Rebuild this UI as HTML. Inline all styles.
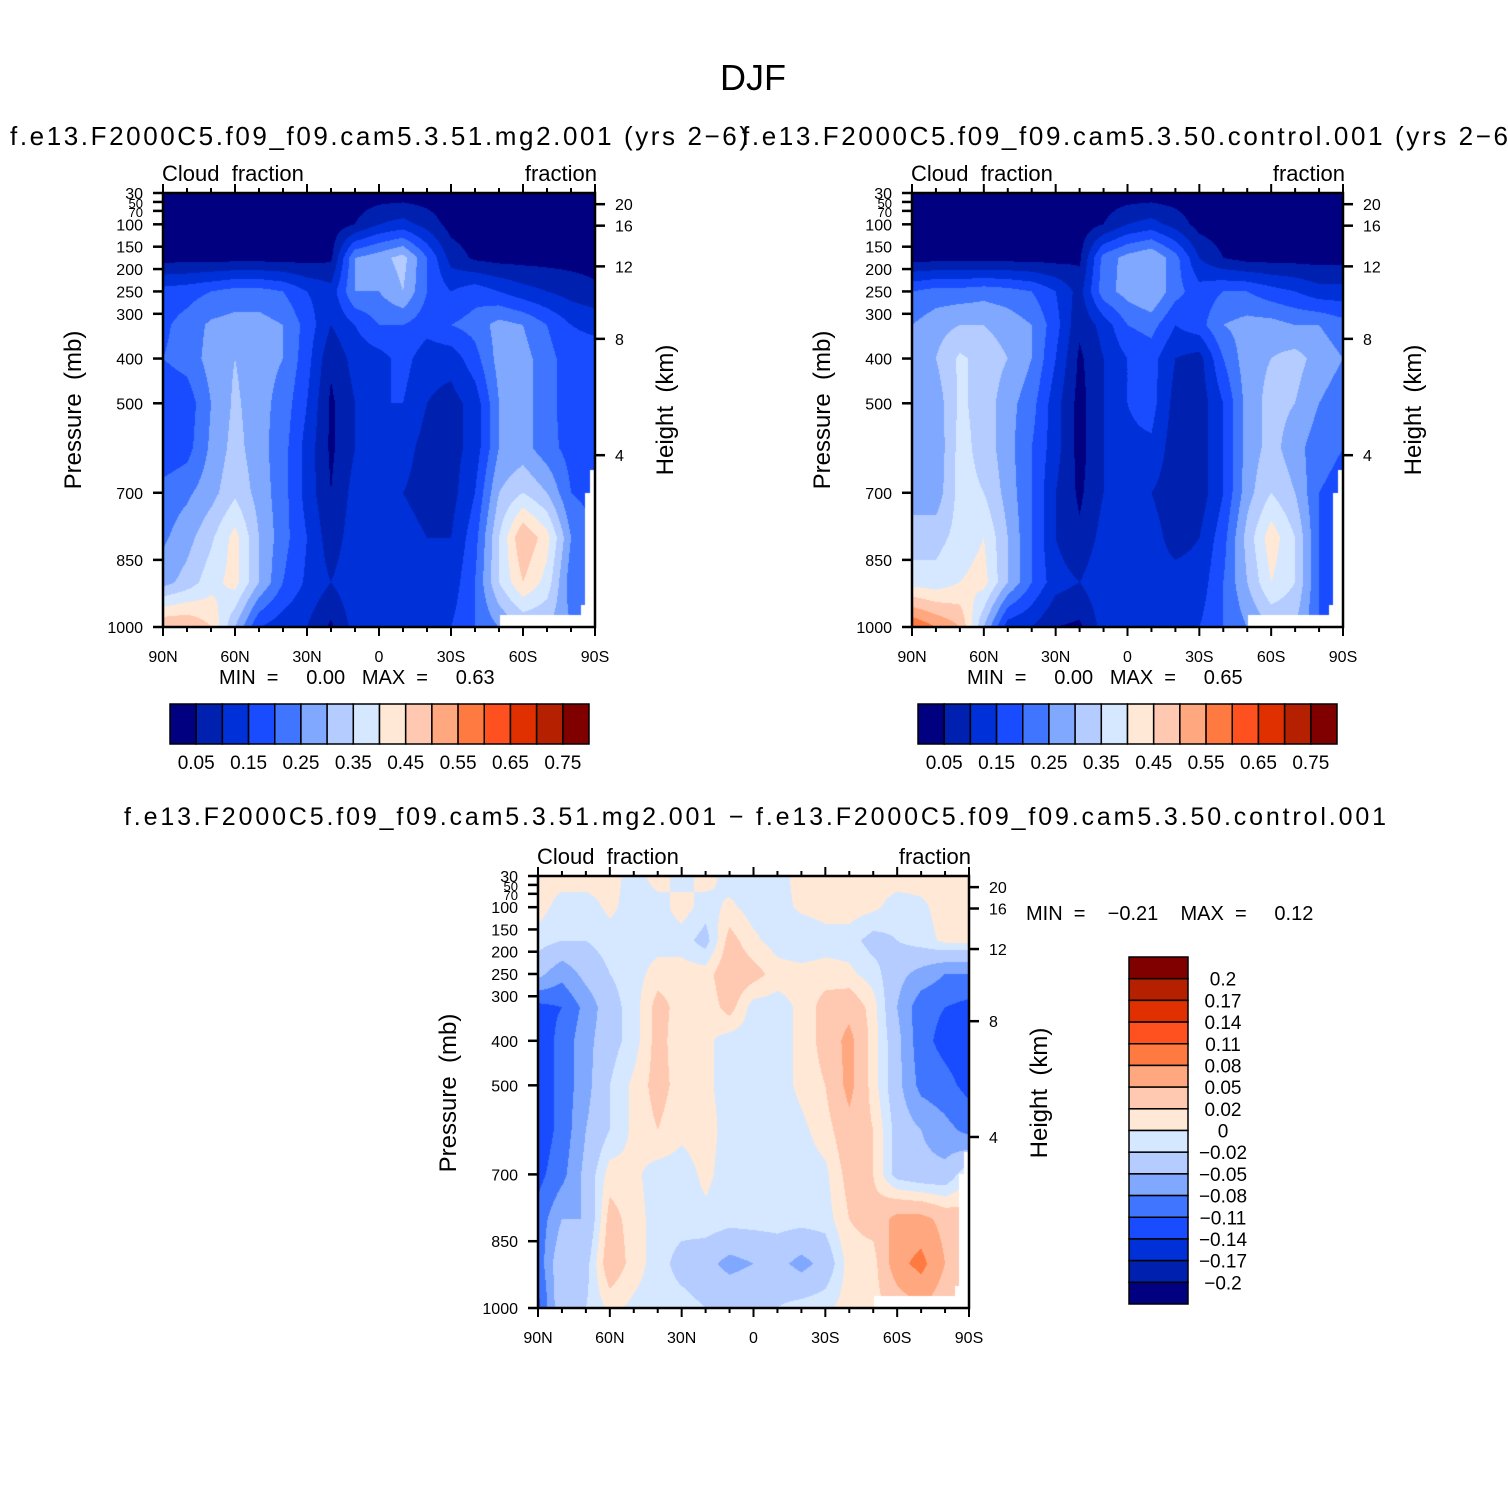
<!DOCTYPE html>
<html><head><meta charset="utf-8"><style>
html,body{margin:0;padding:0;background:#fff;}
#wrap{position:relative;width:1508px;height:1508px;overflow:hidden;background:#fff;}
canvas{position:absolute;}
svg{position:absolute;left:0;top:0;}
text{font-family:"Liberation Sans",sans-serif;fill:#000;}
.pre{white-space:pre;}
</style></head><body>
<div id="wrap">
<canvas id="c1" width="432" height="434" style="left:163px;top:193px"></canvas>
<canvas id="c2" width="431" height="434" style="left:912px;top:193px"></canvas>
<canvas id="c3" width="431" height="432" style="left:538px;top:876px"></canvas>
<svg id="s" width="1508" height="1508">
<text x="753" y="90" font-size="36" text-anchor="middle">DJF</text>
<text x="10" y="145" font-size="26" textLength="738" lengthAdjust="spacing">f.e13.F2000C5.f09_f09.cam5.3.51.mg2.001  (yrs 2−6)</text>
<text x="742" y="145" font-size="26" textLength="766" lengthAdjust="spacing">f.e13.F2000C5.f09_f09.cam5.3.50.control.001  (yrs 2−6</text>
<text x="755" y="825" font-size="25" text-anchor="middle" textLength="1262" lengthAdjust="spacing">f.e13.F2000C5.f09_f09.cam5.3.51.mg2.001  −  f.e13.F2000C5.f09_f09.cam5.3.50.control.001</text>
</svg>
</div>
<script>
const lats = [90,80,70,60,50,40,30,20,10,0,-10,-20,-30,-40,-50,-60,-70,-80,-90];
const plevs = [30,100,175,250,325,400,500,600,700,800,900,1000];
const pTickLabels = [30,50,70,100,150,200,250,300,400,500,700,850,1000];
const hTickLabels = [20,16,12,8,4];
const hTickPres = [55,103,194,356,616];
const xTickLabels = ["90N","60N","30N","0","30S","60S","90S"];
const xTickLats = [90,60,30,0,-30,-60,-90];
const absLevels = [0.05,0.1,0.15,0.2,0.25,0.3,0.35,0.4,0.45,0.5,0.55,0.6,0.65,0.7,0.75];
const absLevelLabels = ["0.05","0.15","0.25","0.35","0.45","0.55","0.65","0.75"];
const diffLevels = [-0.2,-0.17,-0.14,-0.11,-0.08,-0.05,-0.02,0,0.02,0.05,0.08,0.11,0.14,0.17,0.2];
const diffLevelLabels = ["−0.2","−0.17","−0.14","−0.11","−0.08","−0.05","−0.02","0","0.02","0.05","0.08","0.11","0.14","0.17","0.2"];
const colors = ["#000080","#0020b0","#0030d8","#1a4cff","#4076ff","#80a8ff","#b4ccff","#d6e8ff","#ffe8d6","#ffc8b0","#ffa880","#ff7a40","#ff5020","#e03000","#b42000","#800000"];
const missing = [[-50.5,-90,973,1000],[-84,-90,950,1000],[-86,-90,700,1000],[-88,-90,650,1000]];
const mg2 = [
[0.02,0.02,0.02,0.02,0.02,0.02,0.02,0.02,0.02,0.02,0.02,0.02,0.02,0.02,0.02,0.02,0.02,0.02,0.02],
[0.02,0.02,0.02,0.02,0.02,0.02,0.02,0.02,0.05,0.1,0.12,0.08,0.03,0.02,0.02,0.02,0.02,0.02,0.02],
[0.03,0.03,0.03,0.03,0.03,0.03,0.03,0.04,0.25,0.28,0.32,0.2,0.08,0.04,0.03,0.03,0.03,0.03,0.03],
[0.17,0.18,0.2,0.22,0.22,0.2,0.15,0.12,0.25,0.25,0.3,0.2,0.15,0.18,0.15,0.12,0.1,0.08,0.06],
[0.19,0.22,0.26,0.27,0.27,0.25,0.18,0.1,0.15,0.2,0.2,0.17,0.2,0.22,0.27,0.25,0.2,0.15,0.14],
[0.2,0.22,0.27,0.3,0.27,0.25,0.17,0.06,0.12,0.13,0.17,0.12,0.12,0.18,0.27,0.27,0.22,0.17,0.17],
[0.16,0.17,0.25,0.31,0.27,0.23,0.15,0.04,0.1,0.15,0.15,0.1,0.08,0.12,0.25,0.27,0.22,0.17,0.2],
[0.16,0.18,0.26,0.32,0.27,0.22,0.13,0.04,0.1,0.14,0.12,0.08,0.08,0.12,0.25,0.27,0.22,0.18,0.2],
[0.22,0.24,0.28,0.34,0.28,0.22,0.13,0.05,0.12,0.12,0.1,0.08,0.08,0.15,0.3,0.35,0.3,0.2,0.18],
[0.24,0.28,0.34,0.42,0.3,0.22,0.15,0.07,0.13,0.13,0.12,0.1,0.1,0.18,0.35,0.5,0.42,0.25,0.2],
[0.28,0.32,0.38,0.42,0.3,0.2,0.14,0.1,0.14,0.15,0.14,0.12,0.12,0.2,0.35,0.45,0.38,0.22,0.2],
[0.5,0.5,0.45,0.3,0.15,0.12,0.1,0.04,0.12,0.12,0.15,0.15,0.15,0.2,0.25,0.3,0.3,0.25,0.2]];
const control = [
[0.02,0.02,0.02,0.02,0.02,0.02,0.02,0.02,0.02,0.02,0.02,0.02,0.02,0.02,0.02,0.02,0.02,0.02,0.02],
[0.02,0.02,0.02,0.02,0.02,0.02,0.02,0.02,0.05,0.1,0.12,0.08,0.03,0.02,0.02,0.02,0.02,0.02,0.02],
[0.03,0.03,0.03,0.03,0.03,0.03,0.03,0.04,0.22,0.27,0.3,0.22,0.1,0.05,0.03,0.03,0.03,0.03,0.03],
[0.2,0.22,0.22,0.23,0.22,0.2,0.15,0.08,0.23,0.27,0.3,0.22,0.17,0.2,0.2,0.17,0.15,0.12,0.12],
[0.25,0.28,0.3,0.3,0.28,0.25,0.17,0.06,0.12,0.2,0.22,0.15,0.18,0.25,0.27,0.27,0.25,0.25,0.22],
[0.28,0.3,0.36,0.33,0.3,0.25,0.15,0.04,0.1,0.15,0.17,0.1,0.08,0.2,0.28,0.3,0.32,0.28,0.25],
[0.28,0.27,0.36,0.33,0.27,0.22,0.12,0.03,0.1,0.15,0.17,0.08,0.07,0.15,0.27,0.32,0.3,0.25,0.22],
[0.28,0.26,0.37,0.33,0.27,0.2,0.12,0.03,0.1,0.14,0.14,0.07,0.07,0.15,0.27,0.32,0.27,0.22,0.2],
[0.28,0.27,0.37,0.35,0.28,0.2,0.1,0.04,0.1,0.12,0.1,0.07,0.07,0.15,0.28,0.35,0.3,0.2,0.18],
[0.32,0.33,0.37,0.4,0.3,0.2,0.1,0.06,0.12,0.12,0.12,0.08,0.1,0.18,0.32,0.43,0.35,0.2,0.18],
[0.38,0.37,0.4,0.42,0.3,0.2,0.12,0.1,0.14,0.15,0.12,0.12,0.12,0.2,0.3,0.4,0.35,0.2,0.18],
[0.6,0.55,0.5,0.3,0.12,0.1,0.05,0.04,0.12,0.12,0.15,0.15,0.15,0.2,0.25,0.3,0.3,0.2,0.18]];
const diff = [
[0.01,0.01,0.01,0.01,-0.01,0.01,-0.01,0.01,-0.01,-0.01,-0.01,0.01,0.01,0.01,0.01,0.01,0.01,0.01,0.01],
[0.01,-0.01,-0.01,0.005,-0.01,-0.01,0.01,-0.01,0.005,-0.01,-0.01,0.005,0.01,0.01,0.005,-0.01,-0.005,0.01,0.01],
[-0.01,-0.02,-0.02,-0.01,-0.01,-0.01,-0.01,-0.03,0.03,0.005,-0.01,-0.02,-0.01,-0.01,-0.03,-0.02,-0.01,0.005,0.005],
[-0.04,-0.07,-0.04,-0.02,-0.01,0.01,0.01,0.01,0.04,0.03,0.01,0.01,0.01,0.005,-0.01,-0.04,-0.06,-0.08,-0.08],
[-0.12,-0.11,-0.07,-0.03,-0.01,0.03,0.01,0.005,0.03,-0.01,-0.01,0.005,0.03,0.04,0.01,-0.05,-0.1,-0.11,-0.12],
[-0.13,-0.1,-0.06,-0.03,-0.01,0.03,0.005,0.005,-0.01,-0.01,-0.01,0.005,0.03,0.06,0.01,-0.04,-0.1,-0.12,-0.13],
[-0.13,-0.1,-0.06,-0.02,0.005,0.03,0.01,0.005,-0.01,-0.02,-0.01,0.005,0.02,0.06,0.01,-0.04,-0.09,-0.1,-0.12],
[-0.13,-0.1,-0.05,-0.02,0.005,0.02,0.005,0.01,-0.01,-0.01,-0.01,-0.005,0.01,0.04,0.02,-0.03,-0.05,-0.07,-0.09],
[-0.12,-0.09,-0.04,0.01,0.005,-0.01,-0.01,0.005,-0.01,-0.01,-0.01,-0.01,-0.005,0.03,0.02,-0.03,-0.04,-0.04,0],
[-0.1,-0.05,-0.05,0.03,0.01,-0.01,-0.01,-0.005,-0.01,-0.01,-0.01,-0.01,-0.01,0.02,0.03,0.06,0.06,0.04,0.03],
[-0.1,-0.02,-0.03,0.04,0.01,-0.01,-0.03,-0.04,-0.06,-0.05,-0.04,-0.06,-0.04,0.01,0.01,0.07,0.09,0.05,0.05],
[-0.12,-0.02,-0.02,0.005,-0.005,-0.01,-0.01,-0.02,-0.02,-0.02,-0.02,-0.01,-0.005,0.01,0.01,0.03,0.05,0.03,0.03]];

const svg = document.getElementById('s');
const NS = 'http://www.w3.org/2000/svg';
function mk(tag, attrs, txt){const e=document.createElementNS(NS,tag);for(const k in attrs)e.setAttribute(k,attrs[k]);if(txt!==undefined)e.textContent=txt;svg.appendChild(e);return e;}

function valAt(grid, lat, p){
  let fi = (90-lat)/10; let i0=Math.min(17,Math.max(0,Math.floor(fi))); let tx=Math.min(1,Math.max(0,fi-i0));
  let j0=0; while(j0<plevs.length-2 && p>plevs[j0+1]) j0++;
  let ty=Math.min(1,Math.max(0,(p-plevs[j0])/(plevs[j0+1]-plevs[j0])));
  const a=grid[j0][i0],b=grid[j0][i0+1],c=grid[j0+1][i0],d=grid[j0+1][i0+1];
  return (a*(1-tx)+b*tx)*(1-ty)+(c*(1-tx)+d*tx)*ty;
}
function colorIndex(v, levels){let k=0;for(const l of levels){if(v>=l)k++;}return k;}
function hex(h){return [parseInt(h.substr(1,2),16),parseInt(h.substr(3,2),16),parseInt(h.substr(5,2),16)];}
const rgb = colors.map(hex);

function drawField(id, grid, levels){
  const cv=document.getElementById(id); const W=cv.width,H=cv.height;
  const ctx=cv.getContext('2d'); const img=ctx.createImageData(W,H);
  for(let y=0;y<H;y++){const p=30+(y+0.5)/H*970;
    for(let x=0;x<W;x++){const lat=90-(x+0.5)/W*180;
      let miss=false; for(const m of missing){if(lat<=m[0]&&lat>=m[1]&&p>=m[2]&&p<=m[3]){miss=true;break;}}
      const o=(y*W+x)*4; let c=[255,255,255];
      if(!miss){c=rgb[colorIndex(valAt(grid,lat,p),levels)];}
      img.data[o]=c[0];img.data[o+1]=c[1];img.data[o+2]=c[2];img.data[o+3]=255;}}
  ctx.putImageData(img,0,0);
}

function panel(px,py,w,h,prefix){
  const X=lat=>px+(90-lat)/180*w; const Y=p=>py+(p-30)/970*h;
  let e=mk('rect',{x:px,y:py,width:w,height:h,fill:'none',stroke:'#000','stroke-width':2.5});
  
  
  for(let lat=90;lat>=-90;lat-=10){
    const major=lat%30===0; const L=major?9:5;
    e=mk('line',{x1:X(lat),x2:X(lat),y1:py+h,y2:py+h+L,stroke:'#000','stroke-width':2});
    
    
    e=mk('line',{x1:X(lat),x2:X(lat),y1:py,y2:py-L,stroke:'#000','stroke-width':2});
    
    
  }
  xTickLats.forEach((lat,i)=>{
    e=mk('text',{x:X(lat),y:py+h+35,'font-size':16,'text-anchor':'middle'},xTickLabels[i]);
    
    
  });
  pTickLabels.forEach(p=>{
    e=mk('line',{x1:px-10,x2:px,y1:Y(p),y2:Y(p),stroke:'#000','stroke-width':2.5});
    
    
    const small=(p===50||p===70);
    e=mk('text',{x:px-20,y:Y(p)+6,'font-size':small?13:16,'text-anchor':'end'},String(p));
    
    
  });
  hTickPres.forEach((p,i)=>{
    e=mk('line',{x1:px+w,x2:px+w+10,y1:Y(p),y2:Y(p),stroke:'#000','stroke-width':2.5});
    
    
    e=mk('text',{x:px+w+20,y:Y(p)+6,'font-size':16},String(hTickLabels[i]));
    
    
  });
  e=mk('text',{x:0,y:0,'font-size':24,'text-anchor':'middle','class':'pre',transform:`translate(${px-82},${py+217}) rotate(-90)`},'Pressure  (mb)');
  
  
  e=mk('text',{x:0,y:0,'font-size':24,'text-anchor':'middle','class':'pre',transform:`translate(${px+w+78},${py+217}) rotate(-90)`},'Height  (km)');
  
  
  e=mk('text',{x:px-1,y:py-12,'font-size':22,'class':'pre'},'Cloud  fraction');
  
  
  e=mk('text',{x:px+w+2,y:py-12,'font-size':22,'text-anchor':'end'},'fraction');
  
  
}

function hbar(px,py,w,h,prefix,minmax){
  const bw=w/16;
  colors.forEach((c,i)=>{
    const e=mk('rect',{x:px+i*bw,y:py,width:bw,height:h,fill:c,stroke:'#000','stroke-width':1.5});
    
    
  });
  absLevelLabels.forEach((t,i)=>{
    const e=mk('text',{x:px+(1+2*i)*bw,y:py+h+25,'font-size':19,'text-anchor':'middle'},t);
    
    
  });
  const e=mk('text',{x:px+49,y:py-20,'font-size':20,'class':'pre'},minmax);
  
  
}

drawField('c1', mg2, absLevels);
drawField('c2', control, absLevels);
drawField('c3', diff, diffLevels);
panel(163,193,432,434,'mg2');
panel(912,193,431,434,'control');
panel(538,876,431,432,'difference');
hbar(170,704,419,40,'mg2','MIN  =     0.00   MAX  =     0.63');
hbar(918,704,419,40,'control','MIN  =     0.00   MAX  =     0.65');

{
  const px=1129,py=957,w=59,h=347,bh=h/16;
  for(let i=0;i<16;i++){
    const e=mk('rect',{x:px,y:py+i*bh,width:w,height:bh,fill:colors[15-i],stroke:'#000','stroke-width':1.5});
    
    
  }
  for(let k=0;k<15;k++){
    const lab=diffLevelLabels[14-k];
    const e=mk('text',{x:1223,y:py+(k+1)*bh+7,'font-size':19,'text-anchor':'middle'},lab);
    
    
  }
  const e=mk('text',{x:1026,y:920,'font-size':20,'class':'pre'},'MIN  =    −0.21    MAX  =     0.12');
  
  
}
</script>
</body></html>
